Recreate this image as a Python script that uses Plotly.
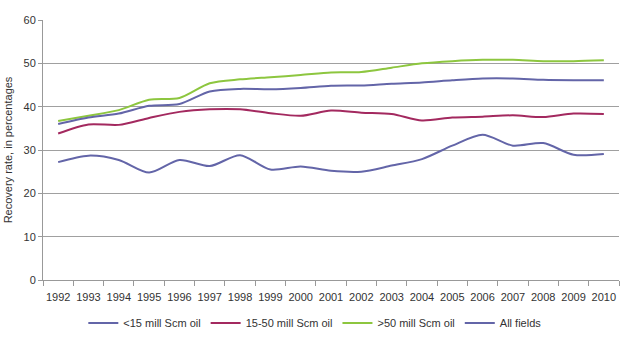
import plotly.graph_objects as go

years = [str(y) for y in range(1992, 2011)]
small = [27.2, 28.7, 27.7, 24.8, 27.7, 26.3, 28.8, 25.5, 26.2, 25.2, 25.0, 26.4, 27.9, 31.0, 33.5, 31.0, 31.6, 28.9, 29.1]
medium = [33.8, 35.9, 35.8, 37.4, 38.8, 39.4, 39.4, 38.5, 37.9, 39.1, 38.6, 38.3, 36.8, 37.5, 37.7, 38.0, 37.6, 38.4, 38.3]
large = [36.7, 37.9, 39.2, 41.6, 42.0, 45.4, 46.3, 46.8, 47.3, 47.9, 48.0, 49.0, 50.0, 50.5, 50.8, 50.8, 50.5, 50.5, 50.7]
allf = [36.0, 37.5, 38.4, 40.2, 40.6, 43.5, 44.1, 44.0, 44.3, 44.8, 44.9, 45.3, 45.6, 46.1, 46.5, 46.5, 46.2, 46.1, 46.1]

names = ["<15 mill Scm oil", "15-50 mill Scm oil", ">50 mill Scm oil", "All fields"]
colors = ["#6365A8", "#A3295F", "#8DC63F", "#6365A8"]
series = [small, medium, large, allf]

fig = go.Figure()
for n, c, s in zip(names, colors, series):
    fig.add_trace(go.Scatter(x=years, y=s, name=n, mode="lines",
                             line=dict(color=c, width=2, shape="spline", smoothing=0.8)))

font = dict(family="Arial, Liberation Sans, sans-serif", size=11, color="#333333")
fig.update_layout(
    width=620, height=343,
    margin=dict(l=43, r=1, t=20, b=63),
    paper_bgcolor="white", plot_bgcolor="white",
    font=font,
    showlegend=True,
    legend=dict(orientation="h", x=0.07, xanchor="left", y=-0.11, yanchor="top",
                font=font, itemwidth=30, tracegroupgap=0),
    xaxis=dict(type="category", tickson="boundaries", ticks="outside", ticklen=5,
               range=[-0.5, len(years) - 0.5],
               tickcolor="#999999", showline=True, linecolor="#999999", linewidth=1,
               showgrid=False, tickfont=font, zeroline=False, tickangle=0,
               ticklabelstandoff=7),
    yaxis=dict(range=[0, 60], dtick=10, ticks="outside", ticklen=4, tickcolor="#999999",
               showline=True, linecolor="#999999", linewidth=1,
               showgrid=True, gridcolor="#A0A0A0", gridwidth=1, zeroline=False,
               tickfont=font,
               title=dict(text="Recovery rate, in percentages", font=font, standoff=8)),
)
fig.write_html("out.html")
